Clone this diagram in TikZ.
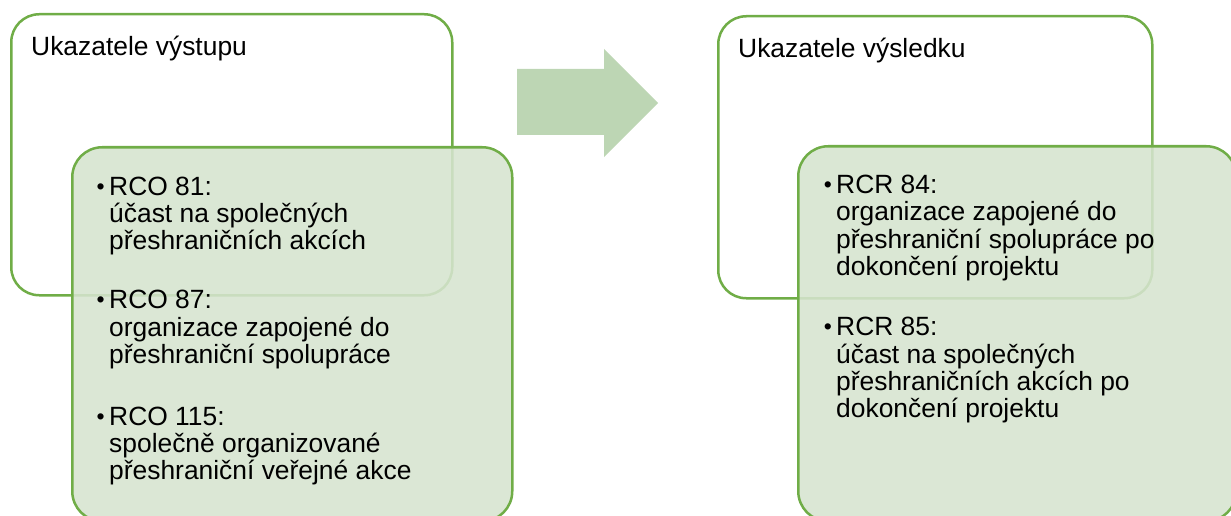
\documentclass[tikz,border=0pt]{standalone}
\usepackage{fontspec}
\setmainfont{Liberation Sans}
\definecolor{gline}{RGB}{112,173,71}
\definecolor{gfill}{RGB}{214,228,207}
\definecolor{garrow}{RGB}{189,214,180}
\begin{document}
\begin{tikzpicture}[x=1pt,y=-1pt,
  outerbox/.style={draw=gline, line width=2.5pt, rounded corners=28pt, fill=white, inner sep=0pt, anchor=north west},
  innerbox/.style={draw=gline, line width=2.5pt, rounded corners=30pt, fill=gfill, fill opacity=0.88, inner sep=0pt, anchor=north west},
  txt/.style={anchor=base west, inner sep=0pt, font=\fontsize{26.4}{27}\selectfont, text=black},
  bul/.style={anchor=base east, inner sep=0pt, font=\fontsize{23}{27}\selectfont, text=black}]
\useasboundingbox (0,0) rectangle (1231,516);
% left group
\node[outerbox, minimum width=441pt, minimum height=281pt] (lo) at (10,13) {};
\node[txt] (lh) at (31,56) {Ukazatele výstupu};
\node[innerbox, minimum width=440pt, minimum height=374pt] (li) at (71,146) {};
\node[bul] (lb1) at (105,194) {•};
\node[txt] (l11) at (109,195) {RCO 81:};
\node[txt] (l12) at (109,222) {účast na společných};
\node[txt] (l13) at (109,249) {přeshraničních akcích};
\node[bul] (lb2) at (105,307) {•};
\node[txt] (l21) at (109,308) {RCO 87:};
\node[txt] (l22) at (109,336) {organizace zapojené do};
\node[txt] (l23) at (109,363) {přeshraniční spolupráce};
\node[bul] (lb3) at (105,424) {•};
\node[txt] (l31) at (109,425) {RCO 115:};
\node[txt] (l32) at (109,452) {společně organizované};
\node[txt] (l33) at (109,479) {přeshraniční veřejné akce};
% arrow
\fill[garrow] (517,69) -- (604,69) -- (604,49) -- (658,103) -- (604,157) -- (604,135) -- (517,135) -- cycle;
% right group
\node[outerbox, minimum width=434pt, minimum height=282pt] (ro) at (717,15) {};
\node[txt] (rh) at (738,58) {Ukazatele výsledku};
\node[innerbox, minimum width=438pt, minimum height=375pt] (ri) at (797,145) {};
\node[bul] (rb1) at (832,192) {•};
\node[txt] (r11) at (836,193) {RCR 84:};
\node[txt] (r12) at (836,220) {organizace zapojené do};
\node[txt] (r13) at (836,248) {přeshraniční spolupráce po};
\node[txt] (r14) at (836,275) {dokončení projektu};
\node[bul] (rb2) at (832,334) {•};
\node[txt] (r21) at (836,335) {RCR 85:};
\node[txt] (r22) at (836,363) {účast na společných};
\node[txt] (r23) at (836,390) {přeshraničních akcích po};
\node[txt] (r24) at (836,417) {dokončení projektu};
\end{tikzpicture}
\end{document}
